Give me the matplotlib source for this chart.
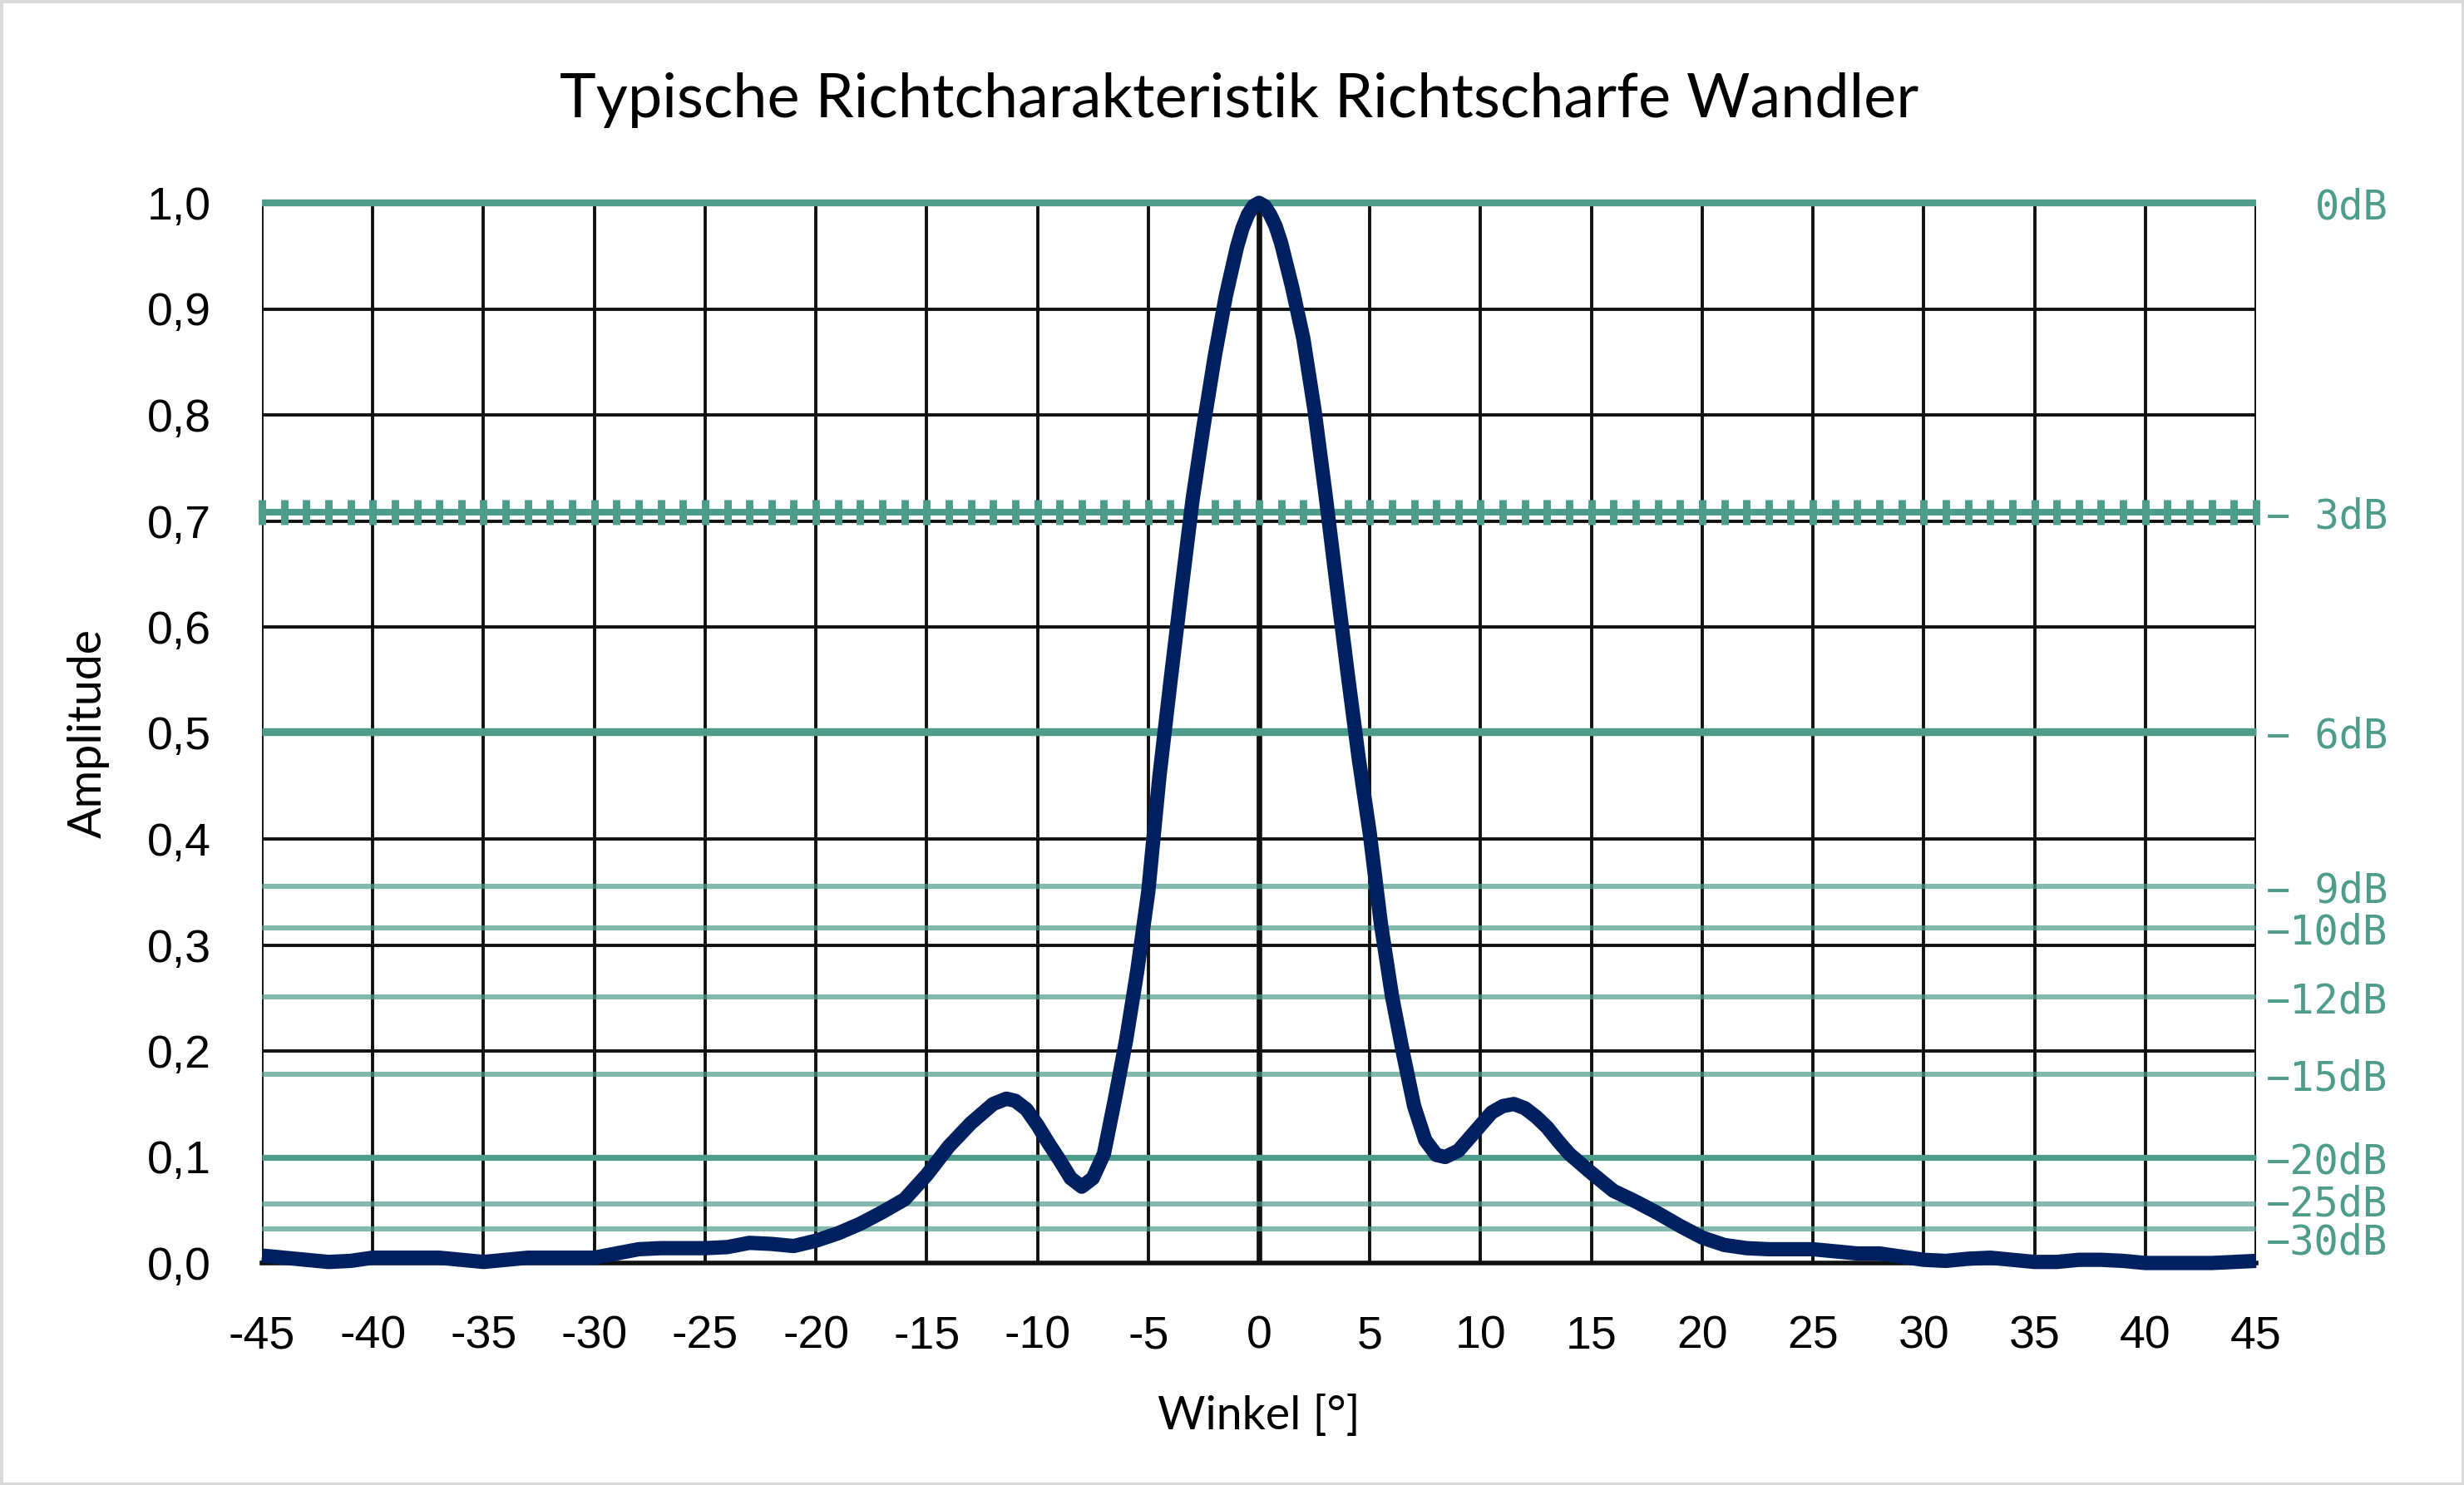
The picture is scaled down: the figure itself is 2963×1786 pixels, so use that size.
import matplotlib
matplotlib.use("Agg")
import matplotlib.pyplot as plt
from matplotlib.patches import Rectangle

angle = [-45, -44, -43, -42, -41, -40, -39, -38, -37, -36, -35, -34, -33, -32, -31,
         -30, -29, -28, -27, -26, -25, -24, -23, -22, -21, -20, -19, -18, -17, -16,
         -15, -14, -13, -12, -11.4, -11, -10.5, -10, -9.5, -9, -8.5, -8, -7.5, -7,
         -6.5, -6, -5.5, -5, -4.5, -4, -3.5, -3, -2.5, -2, -1.5, -1, -0.75, -0.5,
         -0.25, 0, 0.25, 0.5, 0.75, 1, 1.5, 2, 2.5, 3, 3.5, 4, 4.5, 5, 5.5, 6,
         6.5, 7, 7.5, 8, 8.4, 9, 9.5, 10, 10.5, 11, 11.5, 12, 12.5, 13, 13.5, 14,
         15, 16, 17, 18, 19, 20, 21, 22, 23, 24, 25, 26, 27, 28, 29, 30, 31, 32,
         33, 34, 35, 36, 37, 38, 39, 40, 41, 42, 43, 44, 45]
amplitude = [0.007, 0.005, 0.003, 0.001, 0.002, 0.005, 0.005, 0.005, 0.005, 0.003,
             0.001, 0.003, 0.005, 0.005, 0.005, 0.005, 0.009, 0.013, 0.014, 0.014,
             0.014, 0.015, 0.019, 0.018, 0.016, 0.021, 0.028, 0.037, 0.048, 0.060,
             0.083, 0.110, 0.132, 0.150, 0.155, 0.153, 0.145, 0.130, 0.113, 0.097,
             0.080, 0.072, 0.080, 0.103, 0.155, 0.210, 0.275, 0.350, 0.458, 0.548,
             0.635, 0.720, 0.790, 0.855, 0.912, 0.958, 0.976, 0.989, 0.997, 1.000,
             0.997, 0.989, 0.978, 0.962, 0.920, 0.872, 0.805, 0.725, 0.640, 0.556,
             0.476, 0.405, 0.320, 0.252, 0.198, 0.148, 0.116, 0.102, 0.100,
             0.106, 0.118, 0.130, 0.142, 0.148, 0.150, 0.146, 0.138, 0.128, 0.115,
             0.103, 0.085, 0.068, 0.058, 0.047, 0.035, 0.024, 0.017, 0.014, 0.013,
             0.013, 0.013, 0.011, 0.009, 0.009, 0.006, 0.003, 0.002, 0.004, 0.005,
             0.003, 0.001, 0.001, 0.003, 0.003, 0.002, 0.000, 0.000, 0.000, 0.000,
             0.001, 0.002]

# Hilfslinien (Daempfung in dB)
db_labels = ["0dB", "\u2212 3dB", "\u2212 6dB", "\u2212 9dB", "\u221210dB",
             "\u221212dB", "\u221215dB", "\u221220dB", "\u221225dB", "\u221230dB"]
db_amplitude = [1.0, 0.708, 0.501, 0.355, 0.316, 0.251, 0.178, 0.100, 0.056, 0.032]

x_ticks = list(range(-45, 50, 5))
x_ticklabels = [str(t) for t in x_ticks]
y_ticks = [0.0, 0.1, 0.2, 0.3, 0.4, 0.5, 0.6, 0.7, 0.8, 0.9, 1.0]
y_ticklabels = ["0,0", "0,1", "0,2", "0,3", "0,4", "0,5", "0,6", "0,7", "0,8", "0,9", "1,0"]

TEAL = "#4E9C8A"
NAVY = "#002060"
W, H = 2963, 1786

fig = plt.figure(figsize=(W / 200, H / 200), dpi=200)
ax = fig.add_axes([315 / W, 1 - 1519 / H, (2713 - 315) / W, (1519 - 244) / H])
ax.set_xlim(-45, 45)
ax.set_ylim(0, 1)

# schwarzes Gitter
for xt in x_ticks:
    ax.axvline(xt, color="#111111", lw=2.4 if xt == 0 else 1.4, zorder=1)
for yt in y_ticks[1:]:
    ax.axhline(yt, color="#111111", lw=1.4, zorder=1)
for s in ["top", "right", "left"]:
    ax.spines[s].set_visible(False)
ax.spines["bottom"].set_linewidth(2.0)
ax.spines["bottom"].set_color("#111111")

# dB-Linien
styles = {
    "0dB": dict(lw=3.0, alpha=1.0),
    "\u2212 6dB": dict(lw=3.4, alpha=1.0),
    "\u221220dB": dict(lw=2.6, alpha=1.0),
}
nudge = {"\u221225dB": 1.5, "\u221230dB": -4}
for lab, amp in zip(db_labels, db_amplitude):
    if lab == "\u2212 3dB":
        ax.plot(range(-45, 46), [amp] * 91, color=TEAL, lw=2.9, marker="|",
                ms=10.8, mew=3.2, zorder=2, clip_on=False)
    else:
        st = styles.get(lab, dict(lw=2.2, alpha=0.7))
        ax.plot([-45, 45], [amp, amp], color=TEAL, zorder=2,
                solid_capstyle="butt", clip_on=False, **st)
    ax.annotate(lab, xy=(1, amp), xycoords=("axes fraction", "data"),
                xytext=(57, nudge.get(lab, 0) - 2), textcoords="offset points",
                ha="right", va="center", color=TEAL, fontsize=17.5,
                family="DejaVu Sans Mono")

ax.plot(angle, amplitude, color=NAVY, lw=6.2, zorder=5, clip_on=False,
        solid_joinstyle="round", solid_capstyle="butt")

ax.set_xticks(x_ticks)
ax.set_xticklabels(x_ticklabels, family="Liberation Sans", fontsize=20)
ax.set_yticks(y_ticks)
ax.set_yticklabels(y_ticklabels, family="Liberation Sans", fontsize=20)
ax.tick_params(axis="x", length=0, pad=22.5)
ax.tick_params(axis="y", length=0, pad=22)

ax.set_xlabel("Winkel [°]", family="Lato", fontsize=20, labelpad=16)
ax.set_ylabel("Amplitude", family="Lato", fontsize=20, labelpad=16)
fig.text(0.503, 1 - 120 / H, "Typische Richtcharakteristik Richtscharfe Wandler",
         ha="center", va="center", family="Lato", fontsize=26.6)

fig.patches.append(Rectangle((0, 0), 1, 1, transform=fig.transFigure, fill=False,
                             edgecolor="#D9D9D9", lw=2.5))

fig.savefig("out.png", dpi=200, facecolor="white")
